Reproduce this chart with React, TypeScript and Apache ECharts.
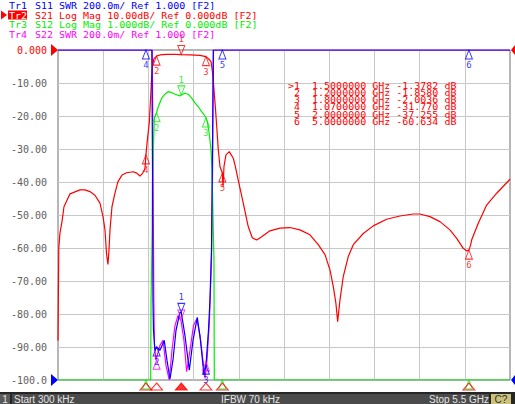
import React, { useEffect, useRef } from "react";
import * as echarts from "echarts";

// ---------- data ----------
const FREQ_START = 0.0003; // GHz
const FREQ_STOP = 5.5; // GHz

// Tr2 S21 Log Mag (dB)
const s21Freq = [0.0003, 0.010, 0.024, 0.049, 0.073, 0.110, 0.146, 0.207, 0.268, 0.329, 0.389, 0.450, 0.511, 0.548, 0.572, 0.590, 0.608, 0.621, 0.633, 0.657, 0.694, 0.730, 0.779, 0.836, 0.916, 0.958, 0.998, 1.031, 1.059, 1.070, 1.089, 1.111, 1.128, 1.140, 1.152, 1.168, 1.200, 1.241, 1.323, 1.424, 1.500, 1.606, 1.728, 1.800, 1.837, 1.862, 1.882, 1.898, 1.914, 1.931, 1.950, 1.971, 2.000, 2.008, 2.020, 2.044, 2.084, 2.133, 2.154, 2.194, 2.255, 2.315, 2.364, 2.418, 2.478, 2.579, 2.701, 2.823, 2.944, 3.066, 3.167, 3.249, 3.310, 3.350, 3.382, 3.403, 3.431, 3.471, 3.532, 3.593, 3.715, 3.836, 3.999, 4.161, 4.323, 4.404, 4.526, 4.648, 4.769, 4.851, 4.931, 4.976, 5.000, 5.020, 5.033, 5.114, 5.216, 5.338, 5.491, 5.500];
const s21Db = [-88, -60, -55.5, -52, -47.5, -45.5, -43.6, -43, -42.4, -42.4, -42.9, -44, -46.4, -50.5, -54.5, -61.5, -65, -60.6, -54.5, -47.5, -43.3, -39.9, -37.9, -37.2, -36.9, -37.3, -38.2, -37.3, -35.9, -31.77, -27, -22, -14, -8, -4.5, -2.6, -1.858, -1.5, -1.3, -1.3, -1.378, -1.45, -1.65, -2.0036, -2.8, -3.5, -7, -12, -17, -23, -30, -35.3, -37.255, -41.5, -35.3, -31.8, -30.8, -32.8, -34.8, -39.5, -46.5, -53.5, -56.9, -57.6, -56.6, -54.8, -54, -53.8, -54.5, -56, -59, -62, -66.7, -71.7, -76.8, -82.3, -75.8, -68.7, -62.6, -59, -55.6, -53.3, -51.3, -50.3, -49.7, -49.7, -50.5, -52, -54.5, -57.1, -60.1, -60.9, -60.634, -59.2, -57.6, -52.5, -47, -43.4, -39.4, -39.1];

// Tr3 S12 Log Mag (dB), 1 dB/div
const s12Freq = [0.0003, 1.128, 1.132, 1.146, 1.148, 1.160, 1.172, 1.180, 1.200, 1.220, 1.262, 1.302, 1.342, 1.383, 1.424, 1.484, 1.500, 1.545, 1.585, 1.627, 1.667, 1.707, 1.748, 1.780, 1.800, 1.817, 1.837, 1.849, 1.862, 1.874, 1.886, 1.898, 1.902, 5.500];
const s12Db = [-10, -10, -7.7, -5.5, -4.2, -3.0, -2.1, -2.0, -1.9, -1.72, -1.46, -1.34, -1.26, -1.29, -1.34, -1.39, -1.36, -1.31, -1.34, -1.46, -1.6, -1.72, -1.87, -1.97, -2.05, -2.17, -2.47, -2.73, -3.03, -3.6, -5, -6.4, -10, -10];

// Tr1 S11 SWR
const s11Freq = [0.0003, 1.142, 1.150, 1.156, 1.162, 1.180, 1.200, 1.241, 1.293, 1.326, 1.363, 1.399, 1.436, 1.484, 1.500, 1.545, 1.598, 1.643, 1.695, 1.734, 1.776, 1.801, 1.831, 1.849, 1.868, 1.880, 1.890, 5.500];
const s11Swr = [3, 3, 2.3, 1.48, 1.30, 1.18, 1.2, 1.18, 1.24, 1.12, 1.006, 1.12, 1.30, 1.41, 1.41, 1.27, 1.06, 1.24, 1.38, 1.24, 1.03, 1.09, 1.30, 1.48, 1.79, 2.4, 3, 3];

// Tr4 S22 SWR
const s22Freq = [0.0003, 1.148, 1.160, 1.166, 1.174, 1.192, 1.241, 1.278, 1.314, 1.354, 1.387, 1.424, 1.460, 1.497, 1.533, 1.566, 1.606, 1.649, 1.688, 1.728, 1.764, 1.789, 1.813, 1.843, 1.868, 1.880, 1.892, 5.500];
const s22Swr = [3, 3, 2.0, 1.5, 1.21, 1.12, 1.21, 1.24, 1.09, 1.0, 1.18, 1.33, 1.39, 1.36, 1.24, 1.05, 1.18, 1.33, 1.37, 1.27, 1.12, 1.01, 1.12, 1.36, 1.73, 2.2, 3, 3];

// markers
const markerIds = ["1", "2", "3", "4", "5", "6"];
const markerFreqs = [1.5, 1.2, 1.8, 1.07, 2.0, 5.0];
const markerS21 = [-1.3782, -1.858, -2.0036, -31.77, -37.255, -60.634];
const markerS12 = [-1.36, -1.9, -2.06, -10, -10, -10];
const markerS11 = [1.41, 1.2, 1.09, 3, 3, 3];
const markerS22 = [1.37, 1.12, 1.11];

// y tick labels
const yTicks = [0, -10, -20, -30, -40, -50, -60, -70, -80, -90, -100];
const yTickLabels = ["0.000", "-10.00", "-20.00", "-30.00", "-40.00", "-50.00", "-60.00", "-70.00", "-80.00", "-90.00", "-100.0"];

// header lines
const headerTraces = [
  { tr: "Tr1", rest: "S11 SWR 200.0m/ Ref 1.000 [F2]" },
  { tr: "Tr2", rest: "S21 Log Mag 10.00dB/ Ref 0.000dB [F2]" },
  { tr: "Tr3", rest: "S12 Log Mag 1.000dB/ Ref 0.000dB [F2]" },
  { tr: "Tr4", rest: "S22 SWR 200.0m/ Ref 1.000 [F2]" },
];

const statusStart = "Start 300 kHz";
const statusIfbw = "IFBW 70 kHz";
const statusStop = "Stop 5.5 GHz";

// ---------- styles ----------
const BLUE = "#0000ff";
const RED = "#ff0000";
const GREEN = "#00ee00";
const MAGENTA = "#ff00ff";
const headerColors = [BLUE, RED, GREEN, MAGENTA];
const MONO = '"DejaVu Sans Mono", "Liberation Mono", monospace';

const zip = (xs: number[], ys: number[]) => xs.map((x, i) => [x, ys[i]]);

function traceSeries(freqs: number[], vals: number[], yIdx: number, color: string, z: number) {
  return {
    type: "line",
    xAxisIndex: 0,
    yAxisIndex: yIdx,
    data: zip(freqs, vals),
    symbol: "none",
    lineStyle: { color, width: 1.2 },
    z,
    silent: true,
  };
}

// showLabel(i, value) decides whether the marker number is drawn
function markerSeries(vals: number[], yIdx: number, color: string, z: number, showLabel: (i: number, v: number) => boolean) {
  return {
    type: "scatter",
    xAxisIndex: 0,
    yAxisIndex: yIdx,
    clip: false,
    z,
    silent: true,
    symbol: "triangle",
    symbolSize: [7, 9],
    itemStyle: { color: "rgba(0,0,0,0)", borderColor: color, borderWidth: 1 },
    data: vals.map((v, i) => {
      const active = i === 0;
      return {
        value: [markerFreqs[i], v],
        symbolRotate: active ? 180 : 0,
        symbolOffset: [0, active ? -4.5 : 4.5],
        label: {
          show: showLabel(i, v),
          formatter: markerIds[i],
          position: active ? "top" : "bottom",
          distance: 1,
          color,
          fontFamily: MONO,
          fontSize: 9,
        },
      };
    }),
  };
}

export default function App() {
  const ref = useRef<HTMLDivElement>(null);

  useEffect(() => {
    const chart = echarts.init(ref.current!, null, { renderer: "svg", width: 515, height: 404 });

    const graphics: any[] = [];
    // header
    headerTraces.forEach((h, i) => {
      const y = 5.5 + i * 9.7;
      if (i === 1) {
        graphics.push({ type: "polygon", z: 100, shape: { points: [[1, 10.5], [7, 15], [1, 19.5]] }, style: { fill: RED } });
        graphics.push({ type: "rect", z: 100, shape: { x: 8, y: 10.5, width: 19, height: 9 }, style: { fill: RED } });
      }
      graphics.push({
        type: "text", z: 101, x: 9, y, scaleY: 0.9,
        style: { text: h.tr, fill: i === 1 ? "#ffffff" : headerColors[i], font: `10px ${MONO}`, textVerticalAlign: "middle", verticalAlign: "middle" },
      });
      graphics.push({
        type: "text", z: 101, x: 35, y, scaleY: 0.9,
        style: { text: h.rest, fill: headerColors[i], font: `10px ${MONO}`, textVerticalAlign: "middle", verticalAlign: "middle" },
      });
    });
    // marker table
    markerIds.forEach((id, i) => {
      const line = `${i === 0 ? ">" : " "}${id}  ${markerFreqs[i].toFixed(7)} GHz ${markerS21[i].toPrecision(5)} dB`;
      graphics.push({
        type: "text", z: 101, x: 288, y: 86 + i * 7.28, scaleY: 0.8,
        style: { text: line, fill: RED, font: `10px ${MONO}`, textVerticalAlign: "middle", verticalAlign: "middle" },
      });
    });
    // reference position triangles
    graphics.push({ type: "polygon", z: 100, shape: { points: [[51, 44], [58, 50], [51, 56]] }, style: { fill: RED } });
    graphics.push({ type: "polygon", z: 100, shape: { points: [[51, 374], [58, 380], [51, 386]] }, style: { fill: BLUE } });
    graphics.push({ type: "polygon", z: 100, shape: { points: [[515, 45], [511, 50], [515, 55]] }, style: { fill: RED } });
    graphics.push({ type: "polygon", z: 100, shape: { points: [[515, 375], [511, 380], [515, 385]] }, style: { fill: BLUE } });
    // status bar
    graphics.push({ type: "rect", z: 110, shape: { x: 0, y: 392, width: 515, height: 12 }, style: { fill: "#262626" } });
    graphics.push({ type: "rect", z: 111, shape: { x: 0, y: 394, width: 10, height: 10 }, style: { fill: "#5a5a5a" } });
    graphics.push({ type: "rect", z: 111, shape: { x: 12, y: 394, width: 477, height: 10 }, style: { fill: "#4b4b4b" } });
    graphics.push({ type: "rect", z: 111, shape: { x: 491, y: 394, width: 20, height: 10 }, style: { fill: "#cbc37c" } });
    const sbFont = '10px "Liberation Sans", Arial, sans-serif';
    const sbText = (text: string, x: number, fill = "#e6e6e6", align = "left") => ({
      type: "text", z: 112, x, y: 399.5,
      style: { text, fill, font: sbFont, textAlign: align, align, textVerticalAlign: "middle", verticalAlign: "middle" },
    });
    graphics.push(sbText("1", 5, "#e6e6e6", "center"));
    graphics.push(sbText(statusStart, 14));
    graphics.push(sbText(statusIfbw, 221));
    graphics.push(sbText(statusStop, 429));
    graphics.push(sbText("C?", 501, "#303030", "center"));

    const option: any = {
      animation: false,
      backgroundColor: "#ffffff",
      grid: { left: 58, top: 50, width: 452, height: 330, show: true, borderColor: "#6e6e6e", borderWidth: 1, backgroundColor: "rgba(0,0,0,0)" },
      xAxis: [
        { type: "value", min: FREQ_START, max: FREQ_STOP, show: false },
        {
          type: "value", min: 0, max: 10, interval: 1, position: "bottom",
          axisLine: { show: false }, axisTick: { show: false }, axisLabel: { show: false },
          splitLine: { show: true, showMinLine: false, showMaxLine: false, lineStyle: { color: "#c8c8c8", width: 1 } },
        },
      ],
      yAxis: [
        {
          type: "value", min: -100, max: 0, interval: 10,
          axisLine: { show: false }, axisTick: { show: false },
          splitLine: { show: true, showMinLine: false, showMaxLine: false, lineStyle: { color: "#c8c8c8", width: 1 } },
          axisLabel: {
            margin: 11,
            fontFamily: MONO,
            fontSize: 10,
            formatter: (v: number) => yTickLabels[yTicks.indexOf(v)] ?? String(v),
            color: (v: any) => (Number(v) === 0 ? RED : "#606060"),
          },
        },
        { type: "value", min: 1, max: 3, show: false },
        { type: "value", min: -10, max: 0, show: false },
      ],
      graphic: { elements: graphics },
      series: [
        traceSeries(s22Freq, s22Swr, 1, MAGENTA, 3),
        traceSeries(s12Freq, s12Db, 2, GREEN, 4),
        traceSeries(s21Freq, s21Db, 0, RED, 5),
        traceSeries(s11Freq, s11Swr, 1, BLUE, 6),
        markerSeries(markerS22, 1, MAGENTA, 7, () => false),
        markerSeries(markerS12, 2, GREEN, 8, (_i, v) => v > -10),
        markerSeries(markerS21, 0, RED, 9, () => true),
        markerSeries(markerS11, 1, BLUE, 10, () => true),
        {
          type: "scatter",
          xAxisIndex: 0,
          yAxisIndex: 0,
          clip: false,
          silent: true,
          z: 11,
          symbol: "triangle",
          symbolSize: [12, 7],
          symbolOffset: [0, 6.5],
          data: markerFreqs.map((f, i) => ({
            value: [f, -100],
            itemStyle: i === 0 ? { color: RED, borderColor: RED, borderWidth: 1 } : { color: "rgba(0,0,0,0)", borderColor: RED, borderWidth: 1 },
          })),
        },
      ],
    };
    chart.setOption(option);
    return () => chart.dispose();
  }, []);

  return <div ref={ref} style={{ position: "fixed", left: 0, top: 0, width: 515, height: 404, background: "#ffffff" }} />;
}
